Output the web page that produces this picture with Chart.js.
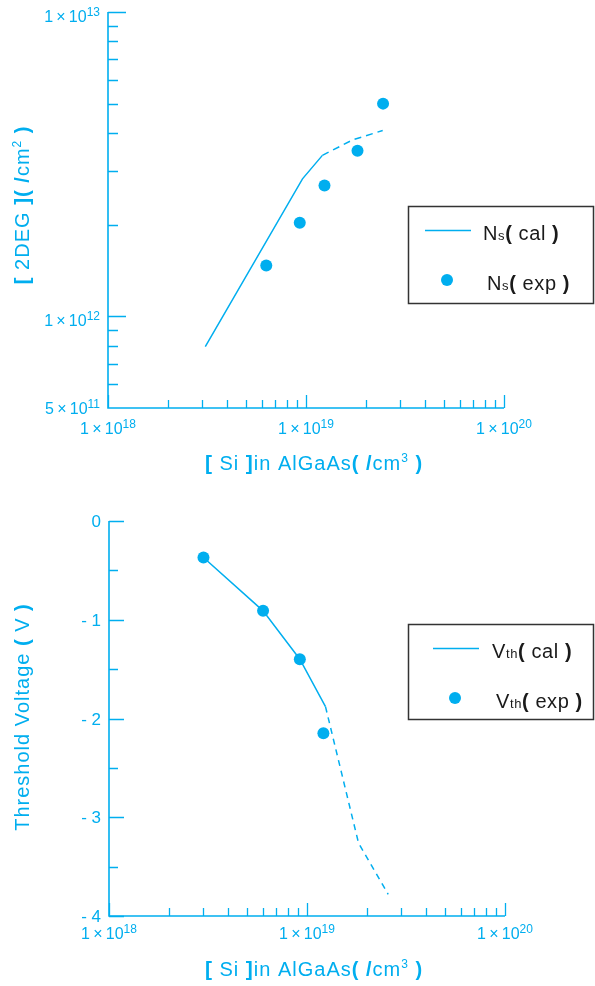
<!DOCTYPE html>
<html>
<head>
<meta charset="utf-8">
<script src="https://cdn.jsdelivr.net/npm/chart.js@4.4.1/dist/chart.umd.min.js"></script>
<style>
  html, body { margin: 0; padding: 0; background: #fff; }
  canvas { display: block; }
</style>
</head>
<body>
<canvas id="ns-chart" width="595" height="490"></canvas>
<canvas id="vth-chart" width="595" height="496"></canvas>
<script>
// [Si] doping (/cm3) vs 2DEG density (/cm2)
const nsCalSi = [3.1e18, 9.6e18, 1.21e19, 1.72e19, 2.44e19];
const nsCalDensity = [7.95e11, 2.83e12, 3.38e12, 3.8e12, 4.08e12];
const nsCalDashFrom = 2;
const nsExpSi = [6.3e18, 9.3e18, 1.24e19, 1.82e19, 2.45e19];
const nsExpDensity = [1.47e12, 2.03e12, 2.69e12, 3.5e12, 5.0e12];

// [Si] doping (/cm3) vs threshold voltage (V)
const vthCalSi = [3.0e18, 6.0e18, 9.2e18, 1.24e19, 1.82e19, 2.57e19];
const vthCalVolt = [-0.37, -0.91, -1.4, -1.88, -3.26, -3.78];
const vthCalDashFrom = 3;
const vthExpSi = [3.0e18, 6.0e18, 9.2e18, 1.21e19];
const vthExpVolt = [-0.37, -0.91, -1.40, -2.15];

// axis ticks
const siDecades = [1e18, 1e19, 1e20];
const siMinor = [2e18, 3e18, 4e18, 5e18, 6e18, 7e18, 8e18, 9e18,
                 2e19, 3e19, 4e19, 5e19, 6e19, 7e19, 8e19, 9e19];
const nsMajor = [1e12, 1e13];
const nsMinor = [6e11, 7e11, 8e11, 9e11, 2e12, 3e12, 4e12, 5e12, 6e12, 7e12, 8e12, 9e12];
const nsLabelValues = [1e13, 1e12, 5e11];
const vthMajor = [0, -1, -2, -3, -4];
const vthMinor = [-0.5, -1.5, -2.5, -3.5];

const CYAN = '#00aeef';
const INK = '#1a1a1a';
const FONT = "'Liberation Sans', Arial, sans-serif";

function drawRich(ctx, parts, x, y, align, spacing) {
  const setFont = p => { ctx.font = `${p[3] || 'normal'} ${p[1]}px ${FONT}`; };
  ctx.letterSpacing = (spacing || 0) + 'px';
  let w = 0;
  parts.forEach(p => { setFont(p); w += ctx.measureText(p[0]).width; });
  let cx = align === 'center' ? x - w / 2 : align === 'right' ? x - w : x;
  ctx.textAlign = 'left';
  ctx.textBaseline = 'alphabetic';
  parts.forEach(p => {
    setFont(p);
    ctx.fillText(p[0], cx, y + (p[2] || 0));
    cx += ctx.measureText(p[0]).width;
  });
  ctx.letterSpacing = '0px';
}

function sciLabel(v, size) {
  const exp = Math.floor(Math.log10(v) + 1e-9);
  const mant = Math.round(v / Math.pow(10, exp));
  return [[`${mant}\u2009×\u200910`, size], [String(exp), size - 4, -6]];
}

const siTitle = [['[', 21, 0, 'bold'], [' Si ', 20], [']', 21, 0, 'bold'], ['in AlGaAs', 20],
  ['(', 20, 0, 'bold'], [' ', 20], ['/', 20, 0, 'bold'], ['cm', 20], ['3', 12, -8], [' )', 20, 0, 'bold']];

function makeFrame(cfg) {
  return {
    id: 'frame',
    afterDraw(chart) {
      const { ctx, chartArea: a, scales: { x, y } } = chart;
      ctx.save();
      ctx.strokeStyle = CYAN;
      ctx.fillStyle = CYAN;
      ctx.lineWidth = 1.6;
      // axis lines
      ctx.beginPath();
      ctx.moveTo(a.left, a.top);
      ctx.lineTo(a.left, a.bottom);
      ctx.lineTo(a.right, a.bottom);
      ctx.stroke();
      // inward ticks
      ctx.lineWidth = 1.3;
      ctx.beginPath();
      cfg.xTicks.forEach(([v, len]) => {
        const px = Math.round(x.getPixelForValue(v)) + 0.5;
        ctx.moveTo(px, a.bottom);
        ctx.lineTo(px, a.bottom - len);
      });
      cfg.yTicks.forEach(([v, len]) => {
        const py = Math.round(y.getPixelForValue(v)) + 0.5;
        ctx.moveTo(a.left, py);
        ctx.lineTo(a.left + len, py);
      });
      ctx.stroke();
      // tick labels
      siDecades.forEach(v => drawRich(ctx, sciLabel(v, 16), x.getPixelForValue(v), a.bottom + cfg.xLabelGap, 'center'));
      cfg.yLabels.forEach(([v, parts, dy]) => drawRich(ctx, parts, a.left - 8, y.getPixelForValue(v) + dy, 'right'));
      // axis titles
      drawRich(ctx, siTitle, 314, a.bottom + cfg.xTitleGap, 'center', 1);
      ctx.save();
      ctx.translate(29, cfg.yTitleCenter);
      ctx.rotate(-Math.PI / 2);
      drawRich(ctx, cfg.yTitle, 0, 0, 'center', 1);
      ctx.restore();
      // legend
      const L = cfg.legend;
      ctx.strokeStyle = '#333';
      ctx.lineWidth = 1.5;
      ctx.strokeRect(L.x + 0.5, L.y + 0.5, L.w, L.h);
      ctx.strokeStyle = CYAN;
      ctx.lineWidth = 1.5;
      ctx.beginPath();
      ctx.moveTo(L.lineX0, L.y + 24.5);
      ctx.lineTo(L.lineX1, L.y + 24.5);
      ctx.stroke();
      ctx.beginPath();
      ctx.arc(L.dotX, L.y + 74, 6, 0, Math.PI * 2);
      ctx.fill();
      ctx.fillStyle = INK;
      const sym = L.symbol;
      drawRich(ctx, [...sym, ['(', 20, 0, 'bold'], [' cal ', 20], [')', 20, 0, 'bold']], L.textX, L.y + 34, 'left', 0.6);
      drawRich(ctx, [...sym, ['(', 20, 0, 'bold'], [' exp ', 20], [')', 20, 0, 'bold']], L.textX + 4, L.y + 84, 'left', 0.6);
      ctx.restore();
    },
  };
}

const baseOptions = (padding, yScale) => ({
  responsive: false,
  animation: false,
  layout: { padding },
  plugins: { legend: { display: false }, tooltip: { enabled: false } },
  scales: {
    x: { type: 'logarithmic', min: 1e18, max: 1e20, display: false },
    y: Object.assign({ display: false }, yScale),
  },
});

const points = (xs, ys) => xs.map((v, i) => ({ x: v, y: ys[i] }));

new Chart(document.getElementById('ns-chart').getContext('2d'), {
  type: 'scatter',
  data: {
    datasets: [
      {
        label: 'Ns(cal)',
        data: points(nsCalSi, nsCalDensity),
        showLine: true,
        borderColor: CYAN,
        borderWidth: 1.5,
        pointRadius: 0,
        segment: { borderDash: ctx => ctx.p0DataIndex >= nsCalDashFrom ? [7, 5] : undefined },
      },
      {
        label: 'Ns(exp)',
        data: points(nsExpSi, nsExpDensity),
        showLine: false,
        pointRadius: 6,
        backgroundColor: CYAN,
        borderWidth: 0,
      },
    ],
  },
  options: baseOptions({ left: 108, top: 12, right: 91, bottom: 82 },
    { type: 'logarithmic', min: 5e11, max: 1e13 }),
  plugins: [makeFrame({
    xTicks: siDecades.map(v => [v, 13]).concat(siMinor.map(v => [v, 8])),
    yTicks: nsMajor.map(v => [v, 18]).concat(nsMinor.map(v => [v, 10])),
    yLabels: nsLabelValues.map(v => [v, sciLabel(v, 16), v < 1e12 ? 6 : 10]),
    xLabelGap: 26,
    xTitleGap: 62,
    yTitle: [['[', 21, 0, 'bold'], [' 2DEG ', 20], [']', 21, 0, 'bold'], ['(', 20, 0, 'bold'], [' ', 20],
      ['/', 20, 0, 'bold'], ['cm', 20], ['2', 12, -8], [' )', 20, 0, 'bold']],
    yTitleCenter: 205,
    legend: { x: 408, y: 206, w: 185, h: 97, lineX0: 425, lineX1: 471, dotX: 447, textX: 483,
      symbol: [['N', 20], ['s', 13]] },
  })],
});

new Chart(document.getElementById('vth-chart').getContext('2d'), {
  type: 'scatter',
  data: {
    datasets: [
      {
        label: 'Vth(cal)',
        data: points(vthCalSi, vthCalVolt),
        showLine: true,
        borderColor: CYAN,
        borderWidth: 1.5,
        pointRadius: 0,
        segment: { borderDash: ctx => ctx.p0DataIndex >= vthCalDashFrom ? [6, 5] : undefined },
      },
      {
        label: 'Vth(exp)',
        data: points(vthExpSi, vthExpVolt),
        showLine: false,
        pointRadius: 6,
        backgroundColor: CYAN,
        borderWidth: 0,
      },
    ],
  },
  options: baseOptions({ left: 109, top: 31, right: 90, bottom: 70 },
    { type: 'linear', min: -4, max: 0 }),
  plugins: [makeFrame({
    xTicks: siDecades.map(v => [v, 13]).concat(siMinor.map(v => [v, 8])),
    yTicks: vthMajor.map(v => [v, 15]).concat(vthMinor.map(v => [v, 9])),
    yLabels: vthMajor.map(v => [v, [[v === 0 ? '0' : `- ${-v}`, 17]], 6]),
    xLabelGap: 23,
    xTitleGap: 60,
    yTitle: [['Threshold Voltage ', 20], ['(', 20, 0, 'bold'], [' V ', 20], [')', 20, 0, 'bold']],
    yTitleCenter: 227,
    legend: { x: 408, y: 134, w: 185, h: 95, lineX0: 433, lineX1: 479, dotX: 455, textX: 492,
      symbol: [['V', 20], ['th', 13]] },
  })],
});
</script>
</body>
</html>
